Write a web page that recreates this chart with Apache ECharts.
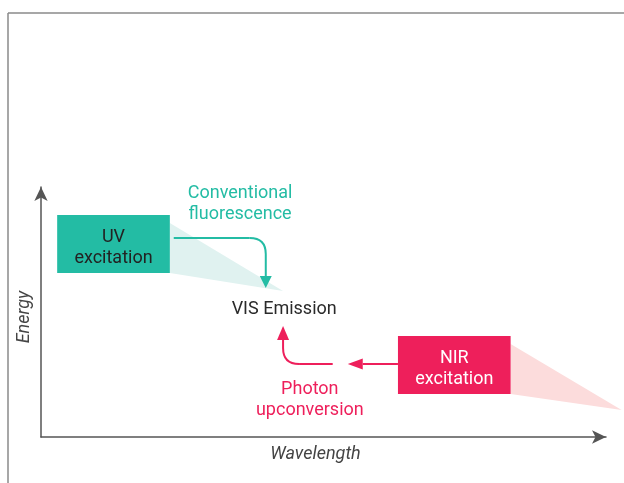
<!DOCTYPE html>
<html>
<head>
<meta charset="utf-8">
<script src="https://cdn.jsdelivr.net/npm/echarts@6/dist/echarts.min.js"></script>
<style>
  html, body { margin: 0; padding: 0; background: #fff; }
  #chart { width: 624px; height: 483px; }
</style>
</head>
<body>
<div id="chart"></div>
<script>
// positions in axis units: wavelength (x), energy (y)
var boxLabels = ['UV\nexcitation', 'NIR\nexcitation'];
var boxes = [
    [2.9, 67.5, 23.1, 91.4],   // x0, y0, x1, y1
    [64.0, 17.7, 84.2, 41.6]
];
var uvBeam = [[23.1, 88.1], [23.1, 67.5], [43.4, 60.1]];
var nirBeam = [[84.2, 38.3], [84.2, 17.7], [104.1, 11.1]];

var fluorArrow = [[23.8, 81.9], [40.3, 81.9], [40.3, 61.3]];
var nirArrow = [[64.0, 30.0], [55.0, 30.0]];
var upconvArrow = [[52.3, 30.0], [43.4, 30.0], [43.4, 45.7]];

var notes = ['Conventional\nfluorescence', 'VIS Emission', 'Photon\nupconversion'];
var notePos = [[35.7, 95.7], [43.6, 52.4], [48.2, 15.4]];

var TEAL = '#23bca4';
var PINK = '#ee1f5b';
var FONT = 'Roboto, "Noto Sans", sans-serif';

// arrow with optional rounded bend, head at the last point
function arrowShape(api, pts, color, headLen, headW) {
    var p = pts.map(function (d) { return api.coord(d); });
    var kids = [];
    var n = p.length;
    var t = p[n - 1], prev = p[n - 2];
    var dx = t[0] - prev[0], dy = t[1] - prev[1];
    var len = Math.sqrt(dx * dx + dy * dy);
    var ux = dx / len, uy = dy / len;
    var base = [t[0] - ux * headLen, t[1] - uy * headLen];
    var lineStyle = { stroke: color, lineWidth: 2, fill: null };
    if (n === 3) {
        var s = p[0], c = p[1], r = 16;
        var ax = c[0] - s[0], ay = c[1] - s[1];
        var al = Math.sqrt(ax * ax + ay * ay);
        var a = [c[0] - ax / al * r, c[1] - ay / al * r];
        var b = [c[0] + ux * r, c[1] + uy * r];
        kids.push({ type: 'line', shape: { x1: s[0], y1: s[1], x2: a[0], y2: a[1] }, style: lineStyle });
        kids.push({ type: 'bezierCurve', shape: { x1: a[0], y1: a[1], cpx1: c[0], cpy1: c[1], x2: b[0], y2: b[1] }, style: lineStyle });
        kids.push({ type: 'line', shape: { x1: b[0], y1: b[1], x2: base[0], y2: base[1] }, style: lineStyle });
    } else {
        kids.push({ type: 'line', shape: { x1: p[0][0], y1: p[0][1], x2: base[0], y2: base[1] }, style: lineStyle });
    }
    kids.push({
        type: 'polygon',
        shape: { points: [t, [base[0] - uy * headW, base[1] + ux * headW], [base[0] + uy * headW, base[1] - ux * headW]] },
        style: { fill: color }
    });
    return { type: 'group', children: kids };
}

function polygonSeries(pts, color) {
    return {
        type: 'custom', coordinateSystem: 'cartesian2d', clip: false, silent: true,
        data: [pts[0]],
        renderItem: function (params, api) {
            return {
                type: 'polygon',
                shape: { points: pts.map(function (d) { return api.coord(d); }) },
                style: { fill: color }
            };
        }
    };
}

var chart = echarts.init(document.getElementById('chart'));
chart.setOption({
    animation: false,
    grid: { left: 41, right: 18, top: 187, bottom: 46 },
    xAxis: {
        type: 'value', min: 0, max: 101.3,
        name: 'Wavelength', nameLocation: 'middle', nameGap: 8,
        nameTextStyle: { fontStyle: 'italic', fontSize: 18, color: '#444', fontFamily: FONT, padding: [0, 16, 0, 0] },
        axisLine: { show: true, symbol: ['none', 'arrow'], symbolSize: [10, 14], lineStyle: { color: '#555', width: 1.5 } },
        axisTick: { show: false }, axisLabel: { show: false }, splitLine: { show: false }
    },
    yAxis: {
        type: 'value', min: 0, max: 102.9,
        name: 'Energy', nameLocation: 'middle', nameGap: 8, nameRotate: 90,
        nameTextStyle: { fontStyle: 'italic', fontSize: 18, color: '#444', fontFamily: FONT, padding: [0, 10, 0, 0] },
        axisLine: { show: true, symbol: ['none', 'arrow'], symbolSize: [10, 14], lineStyle: { color: '#555', width: 1.5 } },
        axisTick: { show: false }, axisLabel: { show: false }, splitLine: { show: false }
    },
    graphic: [
        { type: 'line', shape: { x1: 8, y1: 13, x2: 624, y2: 13 }, style: { stroke: '#8a8a8a', lineWidth: 1.5 } },
        { type: 'line', shape: { x1: 8, y1: 13, x2: 8, y2: 483 }, style: { stroke: '#8a8a8a', lineWidth: 1.5 } }
    ],
    series: [
        polygonSeries(uvBeam, '#e0f2f0'),
        polygonSeries(nirBeam, '#fcdcdc'),
        {
            type: 'custom', coordinateSystem: 'cartesian2d', clip: false, silent: true,
            data: boxes,
            renderItem: function (params, api) {
                var b = boxes[params.dataIndex];
                var p0 = api.coord([b[0], b[3]]);
                var p1 = api.coord([b[2], b[1]]);
                var uv = params.dataIndex === 0;
                return {
                    type: 'group',
                    children: [
                        { type: 'rect', shape: { x: p0[0], y: p0[1], width: p1[0] - p0[0], height: p1[1] - p0[1] },
                          style: { fill: uv ? TEAL : PINK } },
                        { type: 'text',
                          style: { text: boxLabels[params.dataIndex], x: (p0[0] + p1[0]) / 2, y: (p0[1] + p1[1]) / 2 + 4,
                                   align: 'center', verticalAlign: 'middle', fontSize: 18, lineHeight: 21,
                                   fontFamily: FONT, fill: uv ? '#222' : '#fff' } }
                    ]
                };
            }
        },
        {
            type: 'custom', coordinateSystem: 'cartesian2d', clip: false, silent: true,
            data: [0, 1, 2],
            renderItem: function (params, api) {
                if (params.dataIndex === 0) return arrowShape(api, fluorArrow, TEAL, 12, 6);
                if (params.dataIndex === 1) return arrowShape(api, nirArrow, PINK, 15, 5.5);
                return arrowShape(api, upconvArrow, PINK, 14, 6);
            }
        },
        {
            type: 'custom', coordinateSystem: 'cartesian2d', clip: false, silent: true,
            data: notePos,
            renderItem: function (params, api) {
                var i = params.dataIndex;
                var p = api.coord(notePos[i]);
                var colors = [TEAL, '#2a2a2a', PINK];
                return {
                    type: 'text',
                    style: { text: notes[i], x: p[0], y: p[1], align: 'center', verticalAlign: 'middle',
                             fontSize: 18, lineHeight: 21, fontFamily: FONT, fill: colors[i] }
                };
            }
        }
    ]
});
</script>
</body>
</html>
